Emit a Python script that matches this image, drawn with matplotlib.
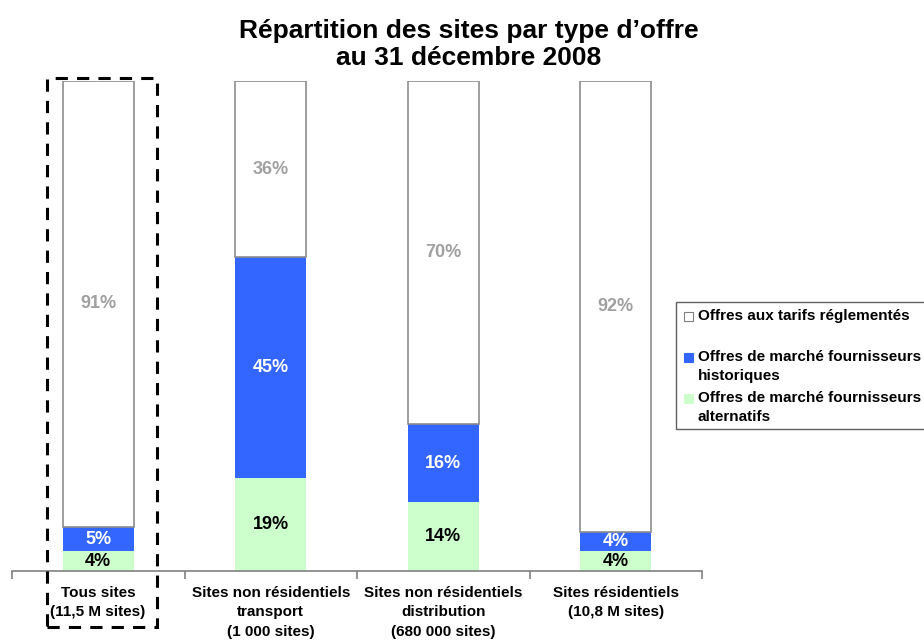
import matplotlib.pyplot as plt
from matplotlib.patches import Rectangle
import numpy as np

plt.rcParams['font.family'] = ['Liberation Sans', 'DejaVu Sans']
plt.rcParams['font.weight'] = 'bold'

# Data
categories = ['Tous sites\n(11,5 M sites)',
              'Sites non résidentiels\ntransport\n(1 000 sites)',
              'Sites non résidentiels\ndistribution\n(680 000 sites)',
              'Sites résidentiels\n(10,8 M sites)']
alternatifs = [4, 19, 14, 4]
historiques = [5, 45, 16, 4]
reglementes = [91, 36, 70, 92]
series_names = ['Offres aux tarifs réglementés',
                'Offres de marché fournisseurs\nhistoriques',
                'Offres de marché fournisseurs\nalternatifs']

W, H = 924, 643
fig = plt.figure(figsize=(W / 100, H / 100), dpi=100)

def fx(x):
    return x / W

def fy(y):
    return 1 - y / H

ax = fig.add_axes([fx(12), fy(571), fx(702) - fx(12), fy(81) - fy(571)])

x = np.arange(len(categories))
bw = 0.41
blue = '#3366FF'
green = '#CCFFCC'

ax.bar(x, alternatifs, bw, color=green, edgecolor='none')
ax.bar(x, historiques, bw, bottom=alternatifs, color=blue, edgecolor='none')
bottom2 = np.array(alternatifs) + np.array(historiques)
ax.bar(x, reglementes, bw, bottom=bottom2, color='white', edgecolor='#8c8c8c', linewidth=1.2)

for i in range(len(x)):
    ax.text(x[i], alternatifs[i] / 2, f'{alternatifs[i]}%', ha='center', va='center',
            fontsize=13, fontweight='bold', color='black')
    ax.text(x[i], alternatifs[i] + historiques[i] / 2, f'{historiques[i]}%', ha='center',
            va='center', fontsize=13, fontweight='bold', color='white')
    ax.text(x[i], bottom2[i] + reglementes[i] / 2, f'{reglementes[i]}%', ha='center',
            va='center', fontsize=13, fontweight='bold', color='#a0a0a0')

ax.set_xlim(-0.5, len(categories) - 0.5)
ax.set_ylim(0, 100)
for s in ['top', 'right', 'left']:
    ax.spines[s].set_visible(False)
ax.spines['bottom'].set_color('#808080')
ax.spines['bottom'].set_linewidth(1.2)
ax.set_yticks([])
ax.set_xticks(np.arange(-0.5, len(categories), 1.0))
ax.set_xticklabels([])
ax.tick_params(axis='x', length=6, color='#808080', width=1.2, direction='out')
for i, lab in enumerate(categories):
    fig.text(fx(98 + i * 172.7), fy(586), lab, ha='center', va='top', fontsize=11,
             fontweight='bold', linespacing=1.48)

# Dashed frame around the first category
fig.patches.append(Rectangle((fx(47), fy(627)), fx(157) - fx(47), fy(78) - fy(627),
                             transform=fig.transFigure, fill=False, edgecolor='black',
                             linestyle=(0, (4, 3)), linewidth=2.2))

# Title
fig.text(fx(469), fy(31), 'Répartition des sites par type d’offre', ha='center', va='center',
         fontsize=19, fontweight='bold')
fig.text(fx(469), fy(58), 'au 31 décembre 2008', ha='center', va='center',
         fontsize=19, fontweight='bold')

# Legend
fig.patches.append(Rectangle((fx(676), fy(429)), fx(930) - fx(676), fy(302) - fy(429),
                             transform=fig.transFigure, fill=False, edgecolor='#606060',
                             linewidth=1.0))
leg_colors = ['white', blue, green]
leg_edges = ['#808080', blue, green]
leg_y = [316, 357, 398]
for c, e, yy, name in zip(leg_colors, leg_edges, leg_y, series_names):
    fig.patches.append(Rectangle((fx(684), fy(yy + 5)), fx(9), 9 / H,
                                 transform=fig.transFigure, facecolor=c, edgecolor=e,
                                 linewidth=0.8))
    fig.text(fx(698), fy(yy - 7), name, ha='left', va='top', fontsize=11,
             fontweight='bold', linespacing=1.48)

fig.savefig('out.png', dpi=100)
